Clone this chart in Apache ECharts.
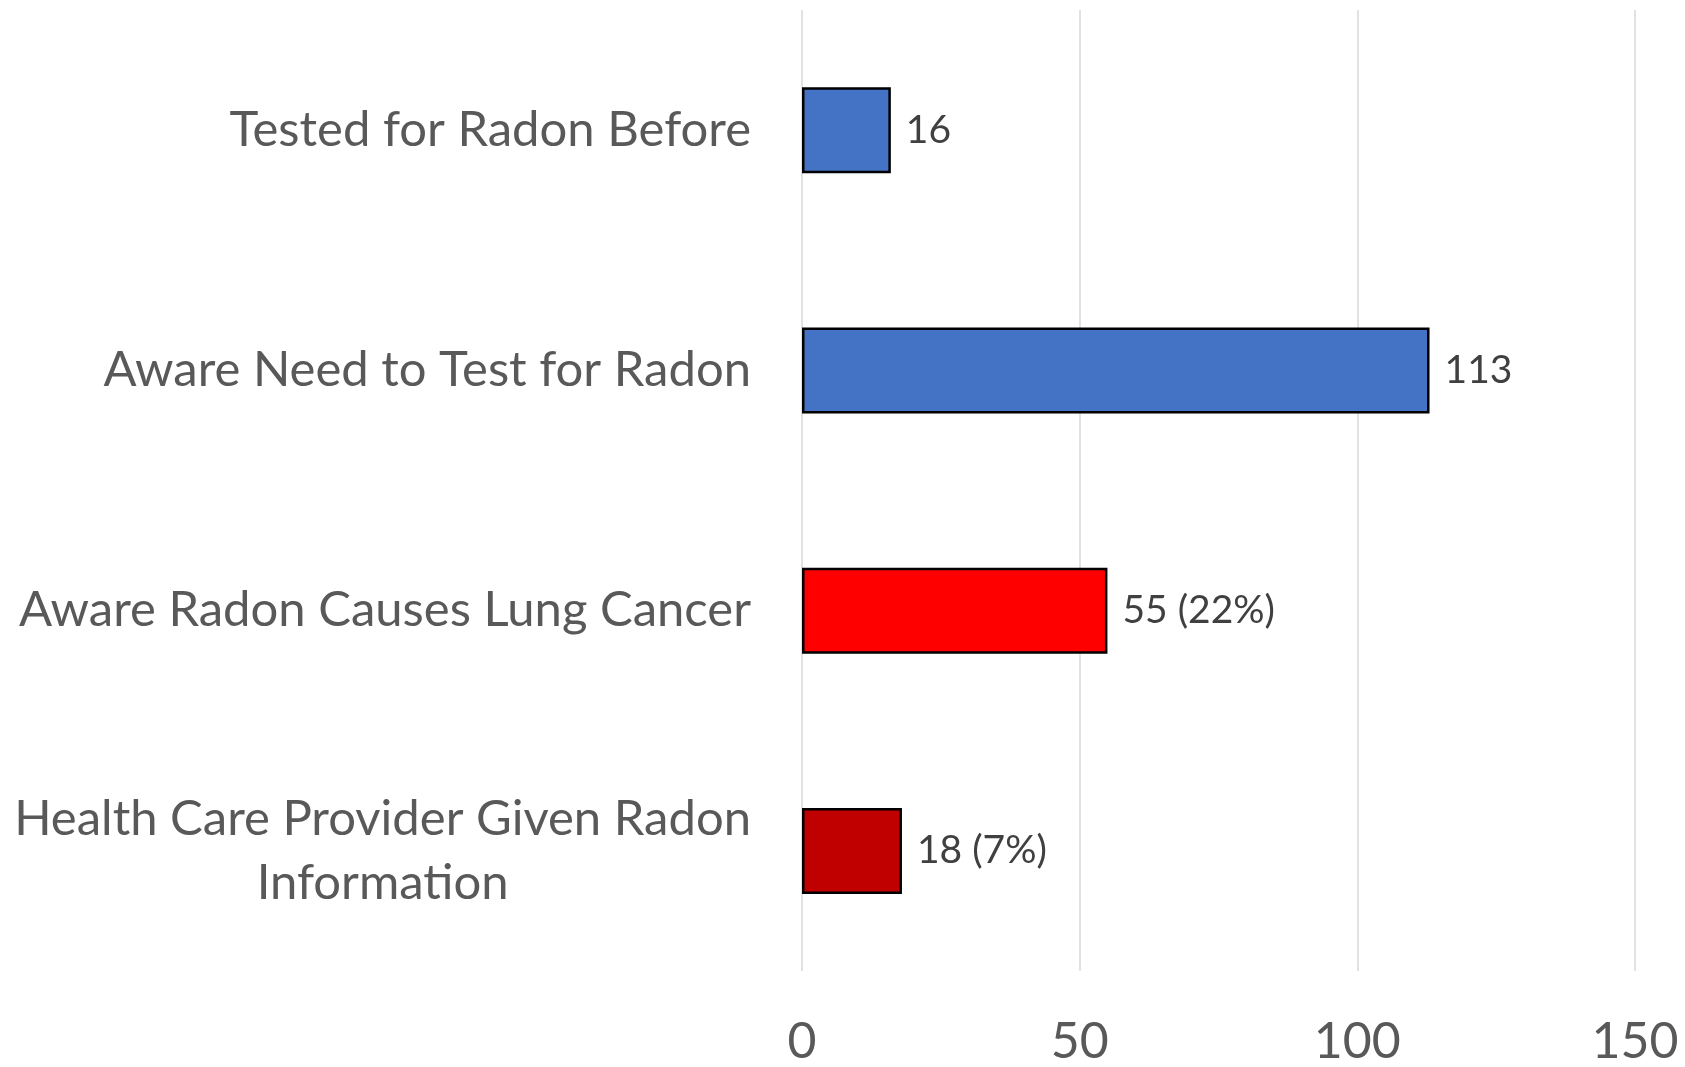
<!DOCTYPE html>
<html>
<head>
<meta charset="utf-8">
<script src="https://cdn.jsdelivr.net/npm/echarts@6/dist/echarts.min.js"></script>
<style>
  html, body { margin: 0; padding: 0; background: #fff; }
  #chart { width: 1685px; height: 1067px; }
</style>
</head>
<body>
<div id="chart"></div>
<script>
// 类目与数值
const categories = [
  'Tested for Radon Before',
  'Aware Need to Test for Radon',
  'Aware Radon Causes Lung Cancer',
  'Health Care Provider Given Radon\nInformation'
]
const counts = [16, 113, 55, 18]
const percents = [null, null, 22, 7]
const barColors = ['#4472C4', '#4472C4', '#FF0000', '#C00000']
const xTicks = [0, 150, 50]  // min, max, interval

const chart = echarts.init(document.getElementById('chart'))

const option = {
  animation: false,
  textStyle: { fontFamily: 'Lato, "Open Sans", sans-serif' },
  grid: { left: 802, right: 50, top: 10, bottom: 89, containLabel: false },
  xAxis: {
    type: 'value',
    min: xTicks[0],
    max: xTicks[1],
    interval: xTicks[2],
    axisLine: { show: false },
    axisTick: { show: false },
    splitLine: { show: true, lineStyle: { color: '#d9d9d9', width: 1.5 } },
    axisLabel: {
      color: '#595959',
      fontSize: 50,
      lineHeight: 50,
      margin: 46
    }
  },
  yAxis: {
    type: 'category',
    inverse: true,
    data: categories,
    axisLine: { show: false },
    axisTick: { show: false },
    axisLabel: {
      margin: 51,
      align: 'right',
      formatter: (v) => '{c|' + v + '}',
      rich: {
        c: {
          color: '#595959',
          fontSize: 49,
          lineHeight: 64,
          align: 'center',
          fontFamily: 'Lato, "Open Sans", sans-serif'
        }
      }
    }
  },
  series: [
    {
      type: 'bar',
      barWidth: 86,
      data: counts.map((v, i) => ({
        value: v,
        itemStyle: { color: barColors[i] }
      })),
      itemStyle: {
        borderColor: '#000',
        borderWidth: 2.5
      },
      label: {
        show: true,
        position: 'right',
        distance: 15,
        color: '#404040',
        fontSize: 39,
        formatter: (p) => percents[p.dataIndex] == null
          ? String(p.value)
          : p.value + ' (' + percents[p.dataIndex] + '%)'
      }
    }
  ]
}

chart.setOption(option)
</script>
</body>
</html>
